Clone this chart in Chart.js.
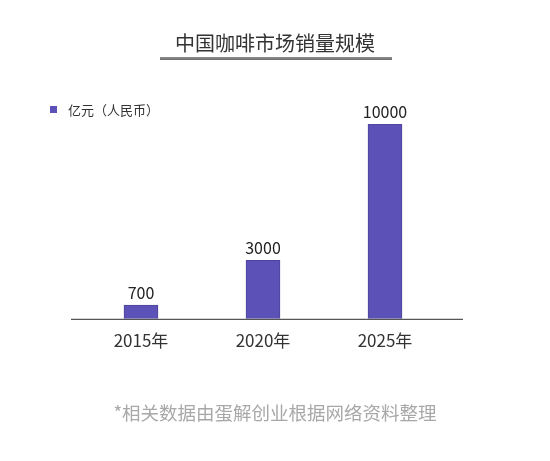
<!DOCTYPE html>
<html lang="zh">
  <head>
    <meta charset="UTF-8" />
    <title>中国咖啡市场销量规模</title>
    <script src="https://cdn.jsdelivr.net/npm/chart.js"></script>
    <style>
      body {
        margin: 0;
        background: #fff;
      }
      .wrap {
        width: 550px;
        height: 461px;
      }
    </style>
  </head>
  <body>
    <div class="wrap"><canvas id="coffeeChart"></canvas></div>

    <script>
      const years = ["2015年", "2020年", "2025年"];
      const sales = [700, 3000, 10000];
      const seriesName = "亿元（人民币）";

      const FONT = '"Noto Sans CJK SC", "Noto Sans", sans-serif';
      const BAR = "#5b51b7";

      // numbers above bars, legend key, baseline and title underline
      const extras = {
        id: "extras",
        afterDatasetsDraw(chart) {
          const { ctx } = chart;
          const meta = chart.getDatasetMeta(0);
          ctx.save();
          ctx.fillStyle = "#222";
          ctx.font = "16px " + FONT;
          ctx.textAlign = "center";
          ctx.textBaseline = "middle";
          meta.data.forEach((bar, i) => {
            ctx.fillText(String(sales[i]), bar.x, bar.y - 12);
          });

          // legend
          ctx.fillStyle = BAR;
          ctx.fillRect(50, 106, 7, 7);
          ctx.fillStyle = "#333";
          ctx.font = "13px " + FONT;
          ctx.textAlign = "left";
          ctx.fillText(chart.data.datasets[0].label, 68, 110);

          const y0 = chart.scales.y.getPixelForValue(0);
          ctx.strokeStyle = "#555";
          ctx.lineWidth = 1.3;
          ctx.beginPath();
          ctx.moveTo(71, y0 + 0.5);
          ctx.lineTo(463, y0 + 0.5);
          ctx.stroke();

          const g = ctx.createLinearGradient(0, 56, 0, 60);
          g.addColorStop(0, "#9a9a9a");
          g.addColorStop(1, "#6e6e6e");
          ctx.fillStyle = g;
          ctx.fillRect(160, 57, 232, 3);
          ctx.restore();
        },
      };

      new Chart(document.getElementById("coffeeChart"), {
        type: "bar",
        data: {
          labels: years,
          datasets: [
            {
              label: seriesName,
              data: sales,
              backgroundColor: BAR,
              borderColor: "#4d4499",
              borderWidth: 1,
              barThickness: 34,
            },
          ],
        },
        options: {
          responsive: true,
          maintainAspectRatio: false,
          animation: false,
          layout: { padding: { left: 40, right: 40, top: 0, bottom: 0 } },
          scales: {
            x: {
              grid: { display: false },
              border: { display: false },
              ticks: { color: "#333", font: { family: FONT, size: 17 }, padding: 4 },
              afterFit(scale) {
                scale.height = 50;
              },
            },
            y: {
              min: 0,
              max: 10000,
              grid: { display: false },
              border: { display: false },
              ticks: { display: false },
              afterFit(scale) {
                scale.width = 40;
              },
            },
            // empty right axis, only to hold the plot area in place
            y2: {
              position: "right",
              grid: { display: false },
              border: { display: false },
              ticks: { display: false },
              afterFit(scale) {
                scale.width = 64;
              },
            },
          },
          plugins: {
            title: {
              display: true,
              text: "中国咖啡市场销量规模",
              color: "#333",
              font: { family: FONT, size: 20, weight: "normal" },
              padding: { top: 31, bottom: 69 },
            },
            subtitle: {
              display: true,
              position: "bottom",
              text: "*相关数据由蛋解创业根据网络资料整理",
              color: "#a8a8a8",
              font: { family: FONT, size: 18.5, weight: "normal" },
              padding: { top: 33, bottom: 37 },
            },
            legend: { display: false },
            tooltip: { enabled: false },
          },
        },
        plugins: [extras],
      });
    </script>
  </body>
</html>
